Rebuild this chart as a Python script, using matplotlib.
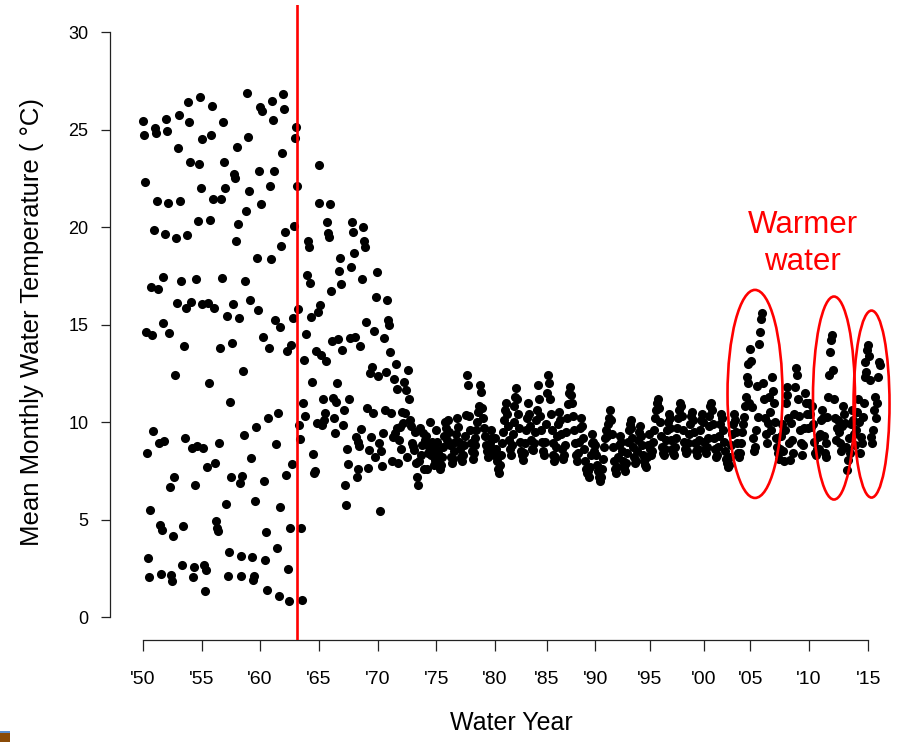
import numpy as np
import matplotlib
matplotlib.use("Agg")
import matplotlib.pyplot as plt
from matplotlib.patches import Ellipse, Rectangle

plt.rcParams['font.family'] = ['Liberation Sans', 'DejaVu Sans']

# ---------------- data (monthly mean water temperature, deg C, in observation order) ----------------
temps_50_55 = [25.45, 24.71, 22.29, 14.63, 8.39, 3.02, 2.03, 5.47, 16.90, 14.46,
               9.56, 19.85, 25.10, 24.80, 21.35, 16.84, 8.92, 4.73, 2.22, 4.47,
               17.46, 15.09, 9.03, 19.64, 25.56, 24.94, 21.23, 14.54, 6.68, 2.17,
               1.87, 4.15, 7.16, 12.39, 19.46, 16.10, 24.04, 25.74, 21.35, 17.23,
               2.65, 4.68, 13.89, 9.19, 15.87, 19.58, 26.39, 25.38, 23.33, 16.14,
               8.66, 2.03, 2.56, 6.77, 17.32, 8.75, 20.33, 23.24, 26.66, 22.01]
temps_55_60 = [24.50, 16.05, 8.66, 2.65, 1.34, 2.43, 7.69, 16.08, 11.98, 20.38,
               24.71, 26.18, 21.42, 15.84, 7.88, 4.91, 4.56, 4.40, 8.94, 13.80,
               21.42, 17.37, 25.38, 23.33, 22.01, 5.79, 15.45, 2.08, 3.32, 11.01,
               7.16, 14.07, 16.05, 22.73, 22.50, 19.27, 24.09, 20.15, 15.34, 6.89,
               3.11, 2.08, 7.21, 12.64, 9.33, 17.23, 20.82, 26.87, 24.62, 21.86,
               16.26, 8.15, 3.09, 1.90, 2.10, 5.93, 9.72, 18.40, 15.73, 22.85]
temps_60_65 = [26.16, 21.18, 25.95, 14.37, 6.98, 2.91, 4.38, 1.37, 10.21, 13.82,
               22.09, 18.35, 26.44, 25.51, 22.85, 15.22, 8.89, 3.55, 10.48, 1.07,
               5.65, 14.88, 19.05, 23.79, 26.80, 26.04, 19.73, 7.30, 13.64, 2.47,
               0.84, 4.59, 13.96, 7.86, 15.34, 20.04, 24.54, 25.15, 22.09, 15.78,
               9.86, 9.15, 4.56, 0.88, 11.00, 13.18, 10.31, 14.50, 17.54, 19.30,
               19.00, 17.15, 15.40, 12.07, 8.36, 7.37, 7.49, 13.64, 9.97, 15.66]
temps_65_70 = [23.18, 21.21, 16.00, 13.44, 9.85, 11.16, 10.10, 10.45, 13.13, 20.24,
               19.70, 19.50, 21.18, 16.72, 14.15, 11.25, 10.19, 9.46, 11.01, 12.02,
               14.26, 17.76, 18.39, 17.06, 13.69, 9.85, 10.60, 6.77, 5.75, 8.60,
               7.85, 11.16, 14.29, 17.97, 20.24, 19.73, 18.65, 14.38, 9.25, 7.17,
               7.58, 9.00, 8.77, 13.92, 9.63, 17.32, 19.98, 19.30, 19.00, 15.15,
               10.74, 7.63, 8.57, 12.50, 9.22, 12.84, 10.45, 14.68, 8.20, 16.39,
               17.68]
temps_70_75 = [12.38, 8.94, 5.46, 8.53, 7.75, 9.42, 14.29, 10.62, 12.55, 16.26,
               15.23, 14.97, 13.57, 10.48, 8.02, 9.25, 12.19, 9.42, 12.98, 11.69,
               9.67, 7.92, 9.10, 9.73, 8.60, 10.50, 9.93, 12.04, 10.48, 11.64,
               8.20, 12.67, 11.16, 10.10, 9.80, 8.90, 8.77, 8.56, 9.50, 7.88,
               7.20, 6.77, 8.00, 9.68, 8.30, 8.80, 9.42, 7.60, 9.08, 9.30,
               7.58, 8.40, 8.74, 10.00, 8.31, 9.00, 8.56, 7.80, 8.05, 8.60]
temps_75_80 = [9.6, 9.0, 8.4, 7.9, 7.6, 7.8, 8.2, 8.7, 9.3, 10.0, 9.7, 9.1,
               10.1, 9.5, 8.8, 8.2, 7.9, 8.1, 8.5, 9.0, 9.4, 10.2, 9.76, 9.0,
               8.6, 8.2, 8.0, 8.3, 8.8, 9.3, 10.35, 12.4, 11.9, 10.3, 9.6, 8.9,
               8.5, 8.1, 8.4, 8.8, 9.2, 9.6, 10.0, 10.5, 10.8, 11.9, 11.55, 10.7,
               10.2, 9.67, 9.3, 8.8, 8.5, 8.2, 8.4, 8.9, 9.6, 9.2, 8.6, 8.3]
temps_80_85 = [9.2, 8.6, 8.0, 7.6, 7.36, 7.8, 8.3, 8.9, 9.5, 10.1, 10.6, 10.95,
               10.4, 9.8, 9.1, 8.6, 8.3, 8.8, 9.4, 10.0, 10.8, 11.3, 11.76, 11.2,
               10.4, 9.7, 9.0, 8.5, 8.3, 8.05, 8.4, 8.9, 9.6, 10.2, 10.95, 10.4,
               9.8, 9.1, 8.6, 8.56, 8.9, 9.5, 10.1, 10.6, 11.9, 11.2, 10.3,
               9.6, 9.0, 8.5, 8.3, 9.0, 9.9]
temps_85_90 = [11.5, 12.4, 12.0, 11.2, 10.4, 9.6, 8.9, 8.3, 8.0, 8.2, 8.7, 9.3,
               9.9, 10.5, 10.1, 9.4, 8.6, 8.1, 8.3, 8.8, 9.5, 10.2, 10.9, 11.5,
               11.8, 11.4, 11.0, 10.3, 9.6, 8.9, 8.3, 8.0, 8.4, 9.0, 9.7, 10.2,
               9.8, 9.2, 8.6, 8.0, 7.6, 7.4, 7.5, 7.2, 7.7, 8.3, 8.9, 9.4,
               9.0, 8.5]
temps_90_95 = [8.8, 8.3, 7.8, 7.5, 7.2, 7.0, 7.2, 7.6, 8.1, 8.7, 9.2, 9.6,
               9.3, 9.9, 10.2, 10.6, 10.1, 9.4, 8.7, 8.0, 7.6, 7.4, 7.7, 8.2,
               8.8, 9.3, 9.0, 8.5, 8.0, 7.7, 7.5, 7.9, 8.4, 9.0, 9.6, 9.9,
               10.1, 9.7, 9.2, 8.7, 8.2, 7.9, 8.0, 8.5, 9.1, 9.5, 9.8, 9.3,
               8.8, 8.3, 8.0, 7.8, 7.7, 8.2, 8.8, 9.4]
temps_95_00 = [8.6, 8.3, 8.5, 9.0, 9.6, 10.2, 10.6, 11.0, 11.2, 10.7, 10.0, 9.3,
               8.7, 8.4, 8.3, 8.6, 9.1, 9.6, 10.0, 10.4, 10.2, 9.7, 9.1, 8.6,
               8.4, 8.3, 8.7, 9.2, 9.7, 10.2, 10.6, 11.0, 10.8, 10.3, 9.6, 9.0,
               8.6, 8.4, 8.5, 8.9, 9.4, 9.9, 10.3, 10.5, 10.1, 9.5, 8.9,
               8.5, 8.3, 8.6, 9.1, 9.6, 10.1, 10.4, 10.0]
temps_00_05 = [9.0, 8.6, 8.4, 8.7, 9.2, 9.8, 10.3, 10.8, 11.0, 10.6, 9.9, 9.2,
               8.6, 8.2, 8.3, 8.7, 9.3, 9.9, 10.4, 10.2, 9.6, 9.0, 8.5, 8.1,
               7.9, 7.7, 7.8, 8.2, 8.8, 9.4, 9.9, 10.4, 10.1, 9.5, 8.9, 8.4,
               8.2, 8.4, 8.9, 9.5, 9.9, 10.27, 10.8, 11.26, 12.3, 13.0, 12.0, 11.0]
temps_05_10 = [13.74, 13.13, 10.79, 9.2, 8.5, 8.7, 9.6, 11.85, 10.24, 14.0,
               14.6, 15.3, 15.57, 11.98, 11.2, 10.2, 9.4, 8.9, 9.93, 11.3,
               10.53, 9.6, 12.3, 11.6, 10.96, 10.0, 9.2, 8.7, 8.4, 8.1,
               8.6, 9.3, 9.9, 8.5, 8.0, 9.6, 11.0, 11.8, 11.4, 10.2,
               8.9, 8.05, 9.93, 9.1, 8.4, 10.4, 11.8, 12.75, 12.4, 11.2,
               10.3, 9.6, 8.9, 8.3, 8.8, 9.7, 11.5, 11.0, 10.4, 9.7]
temps_10_15 = [11.0, 10.4, 9.76, 10.8, 9.9, 9.0, 8.4, 8.3, 8.6, 9.25,
               8.6, 9.4, 10.1, 10.6, 10.2, 9.3, 8.4, 8.2, 8.9, 10.27,
               11.3, 12.4, 13.6, 14.2, 14.46, 12.67, 11.2, 10.2, 9.08, 9.7,
               10.1, 9.5, 8.9, 8.5, 9.8, 10.8, 10.4, 9.93, 8.7, 7.54,
               8.05, 9.16, 8.4, 9.9, 10.6, 10.1, 9.4, 8.8, 9.6, 10.5,
               11.2, 10.0, 8.4, 9.25, 8.9, 10.27, 11.0, 12.3, 13.1, 12.58,
               13.7]
temps_15_16 = [13.95, 13.4, 12.15, 9.25, 8.9, 9.6, 10.6, 11.3, 10.2, 11.0, 12.3, 13.1, 12.9]

tick_labels = ["'50", "'55", "'60", "'65", "'70", "'75", "'80", "'85", "'90",
               "'95", "'00", "'05", "'10", "'15"]
change_obs = 158.3          # observation index of the red vertical marker
y_ticks = [0, 5, 10, 15, 20, 25, 30]

blocks = [temps_50_55, temps_55_60, temps_60_65, temps_65_70, temps_70_75,
          temps_75_80, temps_80_85, temps_85_90, temps_90_95, temps_95_00,
          temps_00_05, temps_05_10, temps_10_15, temps_15_16]
values = np.concatenate([np.asarray(b, float) for b in blocks])
obs = np.arange(len(values))
tick_pos = np.cumsum([0] + [len(b) for b in blocks[:-1]])

# ---------------- figure ----------------
W, H = 903, 742
fig = plt.figure(figsize=(W / 100, H / 100), dpi=100)
ax_l, ax_r, ax_b, ax_t = 110, 892, 640, 5
ax = fig.add_axes([ax_l / W, 1 - ax_b / H, (ax_r - ax_l) / W, (ax_b - ax_t) / H])

ax.scatter(obs, values, s=43, c='black', linewidths=0, zorder=3)
ax.axvline(change_obs, color='#ff0000', lw=1.9, zorder=4)

ax.set_xlim(-33.85, 768.2)
ax.set_ylim(-1.179, 31.385)
for s in ['top', 'right']:
    ax.spines[s].set_visible(False)
ax.spines['left'].set_bounds(0, 30)
ax.spines['bottom'].set_bounds(tick_pos[0], tick_pos[-1])
for s in ['left', 'bottom']:
    ax.spines[s].set_linewidth(0.9)
    ax.spines[s].set_color('#222222')

ax.set_yticks(y_ticks)
ax.set_yticklabels([str(v) for v in y_ticks])
ax.set_xticks(tick_pos)
ax.set_xticklabels(tick_labels)
ax.tick_params(axis='y', length=6.5, width=0.9, pad=9, labelsize=13, color='#222222')
ax.tick_params(axis='x', length=8, width=0.9, pad=14, labelsize=14, color='#222222')

# highlight ellipses
for (cx, cy, w, h) in [(627.7, 11.44, 56.4, 10.67), (708.7, 11.23, 43.1, 10.41), (747.2, 10.92, 36.9, 9.59)]:
    ax.add_patch(Ellipse((cx, cy), w, h, fill=False, edgecolor='#ff0000', lw=1.9, zorder=5))

ax.text(676.4, 19.69, 'Warmer', color='#ff0000', fontsize=22.5, ha='center', va='baseline')
ax.text(676.4, 17.79, 'water', color='#ff0000', fontsize=22.5, ha='center', va='baseline')

fig.text(511 / W, 1 - 723 / H, 'Water Year', fontsize=18, ha='center', va='center')
fig.text(32 / W, 1 - 322 / H, 'Mean Monthly Water Temperature ( \u00b0C)', fontsize=18.5,
         rotation=90, ha='center', va='center')

# small corner artifact
fig.patches.append(Rectangle((0, 0), 10 / W, 11 / H, transform=fig.transFigure,
                             facecolor='#8a4b08', edgecolor='none'))
fig.patches.append(Rectangle((0, 9 / H), 10 / W, 2 / H, transform=fig.transFigure,
                             facecolor='#5b8fd0', edgecolor='none'))

fig.savefig('out.png', dpi=100)
